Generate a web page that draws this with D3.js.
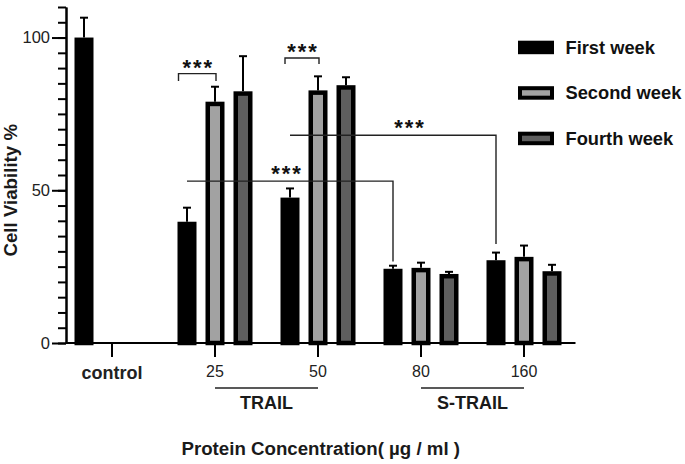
<!DOCTYPE html>
<html>
<head>
<meta charset="utf-8">
<script src="https://cdn.jsdelivr.net/npm/d3@7"></script>
<style>
  body { margin: 0; background: #fff; }
  svg { display: block; font-family: "Liberation Sans", Arial, sans-serif; }
</style>
</head>
<body>
<svg id="chart" width="685" height="464"></svg>
<script>
// ---------- data ----------
const groups = ["control", "25", "50", "80", "160"];
const series = ["First week", "Second week", "Fourth week"];
const firstWeek  = [100, 39.7, 47.6, 24.3, 27.1];
const secondWeek = [null, 79.0, 82.7, 24.6, 28.2];
const fourthWeek = [null, 82.4, 84.4, 22.6, 23.5];
const firstErr   = [6.5, 4.6, 3.0, 1.0, 2.5];
const secondErr  = [null, 4.9, 4.6, 1.7, 3.7];
const fourthErr  = [null, 11.5, 2.6, 0.7, 2.1];
const yTickLabels = [0, 50, 100];
const groupLabels = [
  { name: "TRAIL", from: "25", to: "50" },
  { name: "S-TRAIL", from: "80", to: "160" }
];
// significance brackets within a group (first vs second week)
const bracketGroup = ["25", "50"];
const bracketLevel = [88.2, 93.3];
const bracketLeg   = [85.8, 91.3];
// long comparison lines (first week of one group vs another)
const longFrom  = ["25", "50"];
const longTo    = ["80", "160"];
const longLevel = [53.0, 68.0];
const longDrop  = [26.7, 32.4];
const sigText = "***";

// ---------- layout ----------
const svg = d3.select("#chart");
const x = d3.scaleBand().domain(groups).range([60.5, 575.5]).padding(0);
const sub = d3.scalePoint().domain(series).range([x.bandwidth() / 2 - 28, x.bandwidth() / 2 + 28]);
const y = d3.scaleLinear().domain([0, 110]).range([343, 7]);
const barW = 19, bw = 4.5;
const fills = d3.scaleOrdinal().domain(series).range(["#000", "#a2a2a2", "#5e5e5e"]);
const valuesBy = { "First week": firstWeek, "Second week": secondWeek, "Fourth week": fourthWeek };
const errBy = { "First week": firstErr, "Second week": secondErr, "Fourth week": fourthErr };

const bars = [];
series.forEach(s => groups.forEach((g, i) => {
  const v = valuesBy[s][i];
  if (v != null) bars.push({ s, g, v, e: errBy[s][i] });
}));
const cx = (g, s) => x(g) + sub(s);

// error bars (behind bars)
const eg = svg.append("g").attr("stroke", "#000").attr("stroke-width", 2);
bars.forEach(d => {
  eg.append("line").attr("x1", cx(d.g, d.s)).attr("x2", cx(d.g, d.s))
    .attr("y1", y(d.v)).attr("y2", y(d.v + d.e));
  eg.append("line").attr("x1", cx(d.g, d.s) - 4).attr("x2", cx(d.g, d.s) + 4)
    .attr("y1", y(d.v + d.e)).attr("y2", y(d.v + d.e));
});

// bars
svg.append("g").selectAll("rect").data(bars).join("rect")
  .attr("x", d => cx(d.g, d.s) - barW / 2 + bw / 2)
  .attr("width", barW - bw)
  .attr("y", d => y(d.v) + bw / 2)
  .attr("height", d => y(0) - y(d.v) - bw / 2)
  .attr("fill", d => fills(d.s))
  .attr("stroke", "#000")
  .attr("stroke-width", bw);

// y axis
const yMinor = svg.append("g").attr("transform", "translate(66,0)")
  .call(d3.axisLeft(y).tickValues(d3.range(0, 111, 5)).tickSize(8).tickSizeOuter(0).tickFormat(""));
const yMajor = svg.append("g").attr("transform", "translate(66,0)")
  .call(d3.axisLeft(y).tickValues(yTickLabels).tickSize(14).tickPadding(2).tickSizeOuter(0));
[yMinor, yMajor].forEach(a => {
  a.selectAll("path, line").attr("stroke", "#000").attr("stroke-width", 2);
  a.selectAll("text").attr("font-size", 16.5).attr("fill", "#222").attr("font-family", "Liberation Sans, Arial, sans-serif");
});

// x axis
const xa = svg.append("g").attr("transform", `translate(0,${y(0)})`)
  .call(d3.axisBottom(x).tickSize(14).tickPadding(9).tickSizeOuter(0));
xa.select(".domain").attr("d", `M66,0H${x.range()[1]}`);
xa.selectAll("path, line").attr("stroke", "#000").attr("stroke-width", 2);
xa.selectAll("text").attr("font-family", "Liberation Sans, Arial, sans-serif").attr("fill", "#222")
  .attr("font-size", d => d === "control" ? 18 : 16)
  .attr("font-weight", d => d === "control" ? "bold" : "normal");

// group labels
groupLabels.forEach(gl => {
  const x1 = x(gl.from) + x.bandwidth() / 2, x2 = x(gl.to) + x.bandwidth() / 2;
  svg.append("line").attr("x1", x1).attr("x2", x2).attr("y1", 388).attr("y2", 388)
    .attr("stroke", "#222").attr("stroke-width", 1.3);
  svg.append("text").attr("x", (x1 + x2) / 2).attr("y", 409).attr("text-anchor", "middle")
    .attr("font-size", 18).attr("font-weight", "bold").attr("fill", "#1a1a1a").text(gl.name);
});

// axis titles
svg.append("text").attr("x", (66 + x.range()[1]) / 2).attr("y", 455).attr("text-anchor", "middle")
  .attr("font-size", 18.7).attr("font-weight", "bold").attr("fill", "#1a1a1a")
  .text("Protein Concentration( µg / ml )");
svg.append("text").attr("transform", `translate(17,${y(50)}) rotate(-90)`).attr("text-anchor", "middle")
  .attr("font-size", 18.7).attr("font-weight", "bold").attr("fill", "#1a1a1a")
  .text("Cell Viability %");

// significance
const ann = svg.append("g").attr("fill", "none").attr("stroke", "#222").attr("stroke-width", 1.4);
const stars = (sx, sy) => svg.append("text").attr("x", sx).attr("y", sy + 11).attr("text-anchor", "middle")
  .attr("font-size", 22).attr("font-weight", "bold").attr("letter-spacing", 2).attr("fill", "#111").text(sigText);
const bracketDx = [-8.5, -5];
bracketGroup.forEach((g, i) => {
  const xl = cx(g, series[0]) + bracketDx[i], xr = cx(g, series[1]) + 1;
  ann.append("path").attr("d", `M${xl},${y(bracketLeg[i])}V${y(bracketLevel[i])}H${xr}V${y(bracketLeg[i])}`);
  stars((xl + xr) / 2 + 1, y(bracketLevel[i]) - 10);
});
const longStarDx = [-4, 16];
longFrom.forEach((g, i) => {
  const xl = cx(g, series[0]), xr = cx(longTo[i], series[0]);
  ann.append("path").attr("d", `M${xl},${y(longLevel[i])}H${xr}V${y(longDrop[i])}`);
  stars((xl + xr) / 2 + longStarDx[i] + 1, y(longLevel[i]) - 11.5);
});

// legend
const lg = svg.append("g");
series.forEach((s, i) => {
  const ly = 40.7 + i * 45.5;
  lg.append("rect").attr("x", 518 + 2).attr("y", ly + 2).attr("width", 36 - 4).attr("height", 13.5 - 4)
    .attr("fill", fills(s)).attr("stroke", "#000").attr("stroke-width", 4);
  lg.append("text").attr("x", 565.5).attr("y", ly + 12.8).attr("font-size", 18.3).attr("font-weight", "bold")
    .attr("fill", "#111").text(s);
});
</script>
</body>
</html>
